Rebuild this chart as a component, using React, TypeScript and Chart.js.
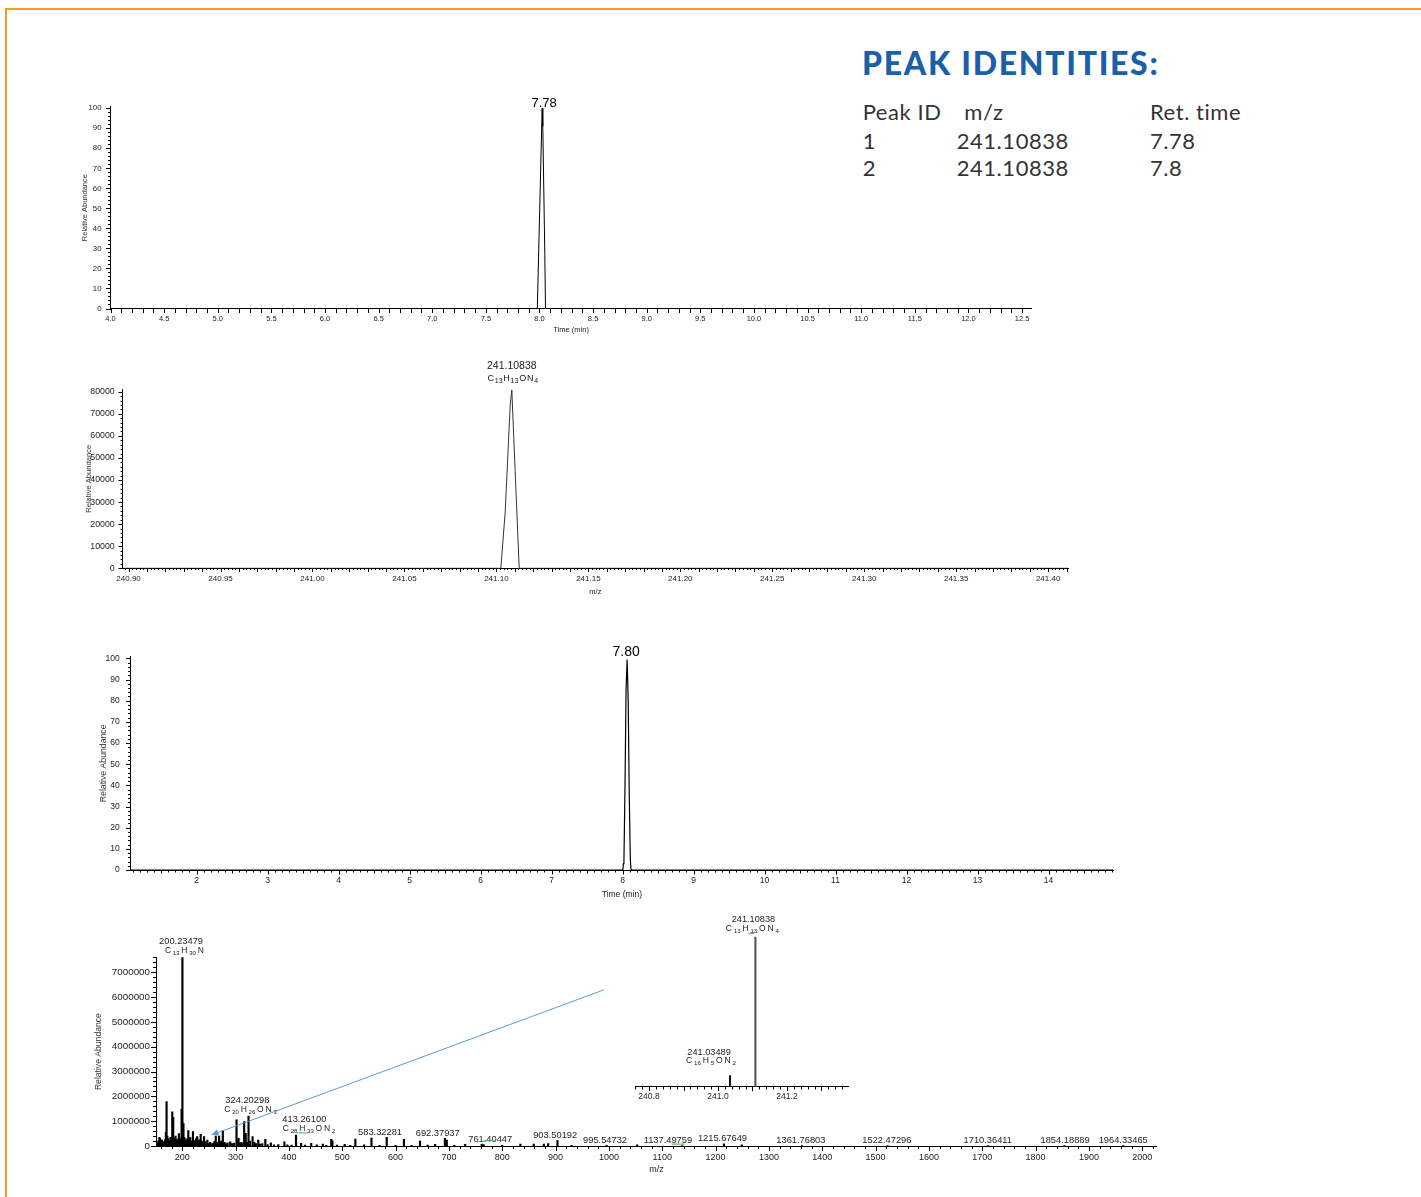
import React, { useEffect, useRef } from "react";
import { Chart, registerables } from "chart.js";

Chart.register(...registerables);

const FONT = "'Liberation Sans', Arial, Helvetica, sans-serif";
Chart.defaults.font.family = FONT;
Chart.defaults.color = "#222";

// ---------- Extracted-ion chromatogram (upper trace) ----------
const chromATime = [4.0, 7.98, 7.984, 8.025, 8.031, 8.05, 8.056, 8.06, 12.59];
const chromAAbund = [0, 0, 0, 100, 91, 27, 0, 0, 0];
const chromAPeakLabel = "7.78";
const chromAXTicks = [4.0, 4.5, 5.0, 5.5, 6.0, 6.5, 7.0, 7.5, 8.0, 8.5, 9.0, 9.5, 10.0, 10.5, 11.0, 11.5, 12.0, 12.5];
const chromAYTicks = [0, 10, 20, 30, 40, 50, 60, 70, 80, 90, 100];

// ---------- Profile mass spectrum around m/z 241.1 ----------
const profileMz = [240.8968, 241.1024, 241.1048, 241.1075, 241.10838, 241.1102, 241.1124, 241.4108];
const profileIntensity = [0, 0, 25600, 74000, 80800, 43800, 0, 0];
const profilePeakLabel = "241.10838";
const profilePeakFormula = "C13H13ON4";
const profileXTicks = [240.9, 240.95, 241.0, 241.05, 241.1, 241.15, 241.2, 241.25, 241.3, 241.35, 241.4];
const profileYTicks = [0, 10000, 20000, 30000, 40000, 50000, 60000, 70000, 80000];

// ---------- Chromatogram (full run) ----------
const chromBTime = [1.0746, 8.005, 8.012, 8.02, 8.035, 8.05, 8.065, 8.08, 8.095, 8.11, 8.12, 14.908];
const chromBAbund = [0, 0, 3, 4, 40, 85, 99.5, 80, 35, 5, 0, 0];
const chromBPeakLabel = "7.80";
const chromBXTicks = [2, 3, 4, 5, 6, 7, 8, 9, 10, 11, 12, 13, 14];
const chromBYTicks = [0, 10, 20, 30, 40, 50, 60, 70, 80, 90, 100];

// ---------- Centroid full-scan spectrum ----------
const spectrumMz = [
  152, 155, 157, 158.5, 160, 162, 164, 166, 168, 169.2, 170.5, 172, 174, 176, 178, 180, 181.2, 183, 185,
  187.4, 189, 191, 193.7, 196, 198.7, 200.23479, 202.2, 204, 206, 208, 209.5, 211.3, 213, 215, 217, 220,
  222, 224, 226, 228, 230, 232, 234.5, 236.5, 238.5, 240.8, 243, 245, 247, 249, 252, 255, 258, 260, 262.8,
  265, 269, 271, 273, 276, 279, 282, 285, 289.8, 293, 297, 301.7, 303.5, 305.5, 308, 311, 313, 316, 319,
  322, 324.20298, 327, 331.8, 335, 338, 342.5, 346, 350, 355.7, 360, 366, 372, 380, 391.5, 397, 405,
  413.261, 422.8, 430, 441.7, 452, 463.6, 470, 479.3, 481.5, 490, 504.5, 515, 524.5, 540.9, 554.7, 570,
  583.32281, 600, 615.6, 630, 645.7, 660, 674, 692.37937, 696, 710, 730.4, 761.40447, 765, 800, 834, 859,
  878, 886, 903.50192, 930, 995.54732, 1053, 1137.49759, 1215.67649, 1249, 1361.76803, 1522.47296,
  1710.36411, 1854.18889, 1964.33465,
];
const spectrumIntensity = [
  120000, 200000, 350000, 300000, 150000, 240000, 100000, 180000, 260000, 550000, 1790000, 400000, 300000,
  220000, 350000, 250000, 1380000, 1160000, 300000, 400000, 200000, 280000, 500000, 300000, 1490000,
  7600000, 910000, 350000, 250000, 200000, 300000, 620000, 250000, 350000, 200000, 580000, 220000, 150000,
  300000, 380000, 180000, 250000, 470000, 200000, 150000, 380000, 180000, 120000, 240000, 100000, 150000,
  100000, 120000, 180000, 400000, 150000, 400000, 120000, 200000, 620000, 150000, 100000, 130000, 170000,
  100000, 120000, 1050000, 200000, 310000, 120000, 150000, 100000, 980000, 510000, 150000, 1210000, 200000,
  380000, 150000, 100000, 240000, 80000, 100000, 270000, 60000, 130000, 50000, 60000, 170000, 50000, 40000,
  440000, 110000, 40000, 110000, 50000, 80000, 30000, 270000, 210000, 40000, 70000, 30000, 280000, 50000,
  320000, 30000, 350000, 30000, 270000, 30000, 200000, 40000, 70000, 310000, 240000, 30000, 70000, 80000,
  60000, 30000, 80000, 80000, 80000, 100000, 215000, 30000, 30000, 50000, 20000, 90000, 50000, 12000,
  12000, 12000, 12000, 12000,
];
const spectrumLabelMz = [
  200.23479, 324.20298, 413.261, 583.32281, 692.37937, 761.40447, 903.50192, 995.54732, 1137.49759,
  1215.67649, 1361.76803, 1522.47296, 1710.36411, 1854.18889, 1964.33465,
];
const spectrumLabelText = [
  "200.23479", "324.20298", "413.26100", "583.32281", "692.37937", "761.40447", "903.50192", "995.54732",
  "1137.49759", "1215.67649", "1361.76803", "1522.47296", "1710.36411", "1854.18889", "1964.33465",
];
const spectrumLabelFormula = ["C13H30N", "C20H26ON3", "C28H33ON2", "", "", "", "", "", "", "", "", "", "", "", ""];
const spectrumXTicks = [200, 300, 400, 500, 600, 700, 800, 900, 1000, 1100, 1200, 1300, 1400, 1500, 1600, 1700, 1800, 1900, 2000];
const spectrumYTicks = [0, 1000000, 2000000, 3000000, 4000000, 5000000, 6000000, 7000000];

// ---------- Inset: isotope region of the full-scan spectrum ----------
const insetMz = [241.03489, 241.10838];
const insetIntensity = [7.4, 100];
const insetLabelText = ["241.03489", "241.10838"];
const insetLabelFormula = ["C16H5ON2", "C13H13ON4"];
const insetXTicks = [240.8, 241.0, 241.2];

// ---------- Peak identities table ----------
const peakIds = ["1", "2"];
const peakMzValues = ["241.10838", "241.10838"];
const peakRetTimes = ["7.78", "7.8"];

// ---------- Layout of the annotation text (pixel offsets) ----------
const spectrumLabelDx = [-1.4, -1.2, 8.3, -6.7, -7.2, 8.5, -2.3, -1.5, -14.4, -1.5, -1, -0.7, 0, 0.6, 0];
const spectrumFormulaDx = [2, 2, 13];
// green isotope-match markers: [label index, x0, x1, dy, anchor] relative to the label centre
const spectrumMatchMarks = [
  [2, -12, -1, 4.3, "formula"],
  [5, -6.7, 4.3, 1.7, "mass"],
  [8, 3.7, 16.6, 3.6, "mass"],
];

type Level = { step: number; len: number };

function drawAxisTicks(ctx: CanvasRenderingContext2D, scale: any, levels: Level[], horizontal: boolean) {
  const fine = levels[0].step;
  const start = Math.ceil(scale.min / fine - 1e-6);
  const end = Math.floor(scale.max / fine + 1e-6);
  ctx.save();
  ctx.strokeStyle = "#000";
  ctx.lineWidth = 1;
  ctx.beginPath();
  for (let i = start; i <= end; i++) {
    const v = i * fine;
    let len = levels[0].len;
    for (const lv of levels) {
      const r = v / lv.step;
      if (Math.abs(r - Math.round(r)) < 1e-5) len = Math.max(len, lv.len);
    }
    const p = Math.round(scale.getPixelForValue(v)) + 0.5;
    if (horizontal) {
      const y0 = Math.round(scale.top);
      ctx.moveTo(p, y0);
      ctx.lineTo(p, y0 + len);
    } else {
      const x0 = Math.round(scale.right);
      ctx.moveTo(x0 - len, p);
      ctx.lineTo(x0, p);
    }
  }
  ctx.stroke();
  ctx.restore();
}

function drawText(
  ctx: CanvasRenderingContext2D,
  s: string,
  x: number,
  y: number,
  size: number,
  baseline: CanvasTextBaseline = "middle",
  color = "#222"
) {
  ctx.save();
  ctx.font = `${size}px ${FONT}`;
  ctx.fillStyle = color;
  ctx.textAlign = "center";
  ctx.textBaseline = baseline;
  ctx.fillText(s, x, y);
  ctx.restore();
}

// chemical formula with subscripted counts, centred on (cx, cy)
function drawFormula(ctx: CanvasRenderingContext2D, f: string, cx: number, cy: number, size: number, sub: number, gap: number) {
  const parts: { t: string; sub: boolean }[] = [];
  const re = /([A-Z][a-z]?)(\d*)/g;
  let m: RegExpExecArray | null;
  while ((m = re.exec(f))) {
    if (!m[0]) break;
    parts.push({ t: m[1], sub: false });
    if (m[2]) parts.push({ t: m[2], sub: true });
  }
  ctx.save();
  ctx.fillStyle = "#222";
  ctx.textBaseline = "middle";
  ctx.textAlign = "left";
  const widths = parts.map((p) => {
    ctx.font = `${p.sub ? sub : size}px ${FONT}`;
    return ctx.measureText(p.t).width;
  });
  const total = widths.reduce((a, b) => a + b, 0) + gap * (parts.length - 1);
  let x = cx - total / 2;
  parts.forEach((p, i) => {
    ctx.font = `${p.sub ? sub : size}px ${FONT}`;
    ctx.fillText(p.t, x, p.sub ? cy + size * 0.28 : cy);
    x += widths[i] + gap;
  });
  ctx.restore();
}

type AxisSpec = {
  min: number;
  max: number;
  labels: number[];
  digits: number;
  levels: Level[];
  font: number;
  pad: number;
  title?: string;
  titleFont?: number;
  titleAt?: number;
};

type PanelSpec = {
  box: { left: number; top: number; width: number; height: number };
  area: { left: number; top: number; right: number; bottom: number };
  x: AxisSpec;
  y: AxisSpec | null;
  yRange?: [number, number];
  datasets: any[];
  draw?: (chart: any, ctx: CanvasRenderingContext2D) => void;
};

function buildPanel(canvas: HTMLCanvasElement, spec: PanelSpec) {
  const { box, area, x, y } = spec;
  const lh = (s: number) => s * 1.2;
  const scales: any = {
    x: {
      type: "linear",
      position: "bottom",
      min: x.min,
      max: x.max,
      offset: false,
      afterBuildTicks: (s: any) => {
        s.ticks = x.labels.map((v) => ({ value: v }));
      },
      afterFit: (s: any) => {
        s.height = box.top + box.height - area.bottom;
      },
      ticks: {
        autoSkip: false,
        maxRotation: 0,
        minRotation: 0,
        padding: x.pad,
        color: "#222",
        font: { size: x.font },
        callback: (v: any) => Number(v).toFixed(x.digits),
      },
      grid: { display: false, drawTicks: true, tickLength: 4 },
      border: { display: true, color: "#000", width: 1 },
      title: x.title
        ? {
            display: true,
            text: x.title,
            color: "#222",
            font: { size: x.titleFont },
            padding: { top: 0, bottom: box.top + box.height - (x.titleAt as number) - lh(x.titleFont as number) / 2 },
          }
        : { display: false },
    },
  };
  if (y) {
    scales.y = {
      type: "linear",
      position: "left",
      min: y.min,
      max: y.max,
      afterBuildTicks: (s: any) => {
        s.ticks = y.labels.map((v) => ({ value: v }));
      },
      afterFit: (s: any) => {
        s.width = area.left - box.left;
      },
      ticks: {
        autoSkip: false,
        padding: y.pad,
        color: "#222",
        font: { size: y.font },
        callback: (v: any) => Number(v).toFixed(y.digits),
      },
      grid: { display: false, drawTicks: true, tickLength: 4 },
      border: { display: true, color: "#000", width: 1 },
      title: y.title
        ? {
            display: true,
            text: y.title,
            color: "#333",
            font: { size: y.titleFont },
            padding: { top: (y.titleAt as number) - box.left - lh(y.titleFont as number) / 2, bottom: 0 },
          }
        : { display: false },
    };
  } else {
    scales.y = { type: "linear", display: false, min: spec.yRange![0], max: spec.yRange![1] };
  }

  const overlay = {
    id: "overlay",
    afterDraw(chart: any) {
      const ctx = chart.ctx as CanvasRenderingContext2D;
      drawAxisTicks(ctx, chart.scales.x, x.levels, true);
      if (y) drawAxisTicks(ctx, chart.scales.y, y.levels, false);
      if (spec.draw) spec.draw(chart, ctx);
    },
  };

  return new Chart(canvas, {
    type: "line",
    data: { datasets: spec.datasets },
    options: {
      responsive: false,
      animation: false,
      devicePixelRatio: 1,
      events: [],
      layout: {
        padding: {
          top: area.top - box.top,
          right: box.left + box.width - area.right,
          left: y ? 0 : area.left - box.left,
          bottom: 0,
        },
      },
      plugins: { legend: { display: false }, tooltip: { enabled: false } },
      scales,
    },
    plugins: [overlay],
  } as any);
}

const pts = (xs: number[], ys: number[]) => xs.map((v, i) => ({ x: v, y: ys[i] }));

const lineSet = (xs: number[], ys: number[], color: string, width: number) => ({
  type: "line",
  data: pts(xs, ys),
  borderColor: color,
  borderWidth: width,
  pointRadius: 0,
  tension: 0,
  fill: false,
});

const apexIndex = (ys: number[]) => ys.indexOf(Math.max(...ys));

const PANELS: PanelSpec[] = [
  {
    box: { left: 55, top: 85, width: 1005, height: 260 },
    area: { left: 110.5, top: 106.7, right: 1031.7, bottom: 308.5 },
    x: {
      min: 4.0, max: 12.59, labels: chromAXTicks, digits: 1,
      levels: [{ step: 0.1, len: 4 }], font: 7.5, pad: 2,
      title: "Time (min)", titleFont: 7.5, titleAt: 330,
    },
    y: {
      min: 0, max: 100.8, labels: chromAYTicks, digits: 0,
      levels: [{ step: 2, len: 3 }, { step: 10, len: 5 }], font: 7.8, pad: 5,
      title: "Relative Abundance", titleFont: 7.5, titleAt: 85,
    },
    datasets: [lineSet(chromATime, chromAAbund, "#000", 1)],
    draw(chart, ctx) {
      const i = apexIndex(chromAAbund);
      const px = chart.scales.x.getPixelForValue(chromATime[i]);
      const py = chart.scales.y.getPixelForValue(chromAAbund[i]);
      drawText(ctx, chromAPeakLabel, px + 2, py - 1.5, 13, "alphabetic", "#000");
    },
  },
  {
    box: { left: 55, top: 350, width: 1045, height: 255 },
    area: { left: 122.7, top: 389.3, right: 1068, bottom: 568.3 },
    x: {
      min: 240.8968, max: 241.4108, labels: profileXTicks, digits: 2,
      levels: [{ step: 0.002, len: 2 }, { step: 0.01, len: 4 }, { step: 0.05, len: 4 }], font: 8, pad: 2,
      title: "m/z", titleFont: 7.5, titleAt: 592,
    },
    y: {
      min: 0, max: 81100, labels: profileYTicks, digits: 0,
      levels: [{ step: 2000, len: 2.5 }, { step: 10000, len: 4.5 }], font: 8.8, pad: 4,
      title: "Relative Abundance", titleFont: 7.6, titleAt: 88.5,
    },
    datasets: [lineSet(profileMz, profileIntensity, "#333", 1)],
    draw(chart, ctx) {
      const i = apexIndex(profileIntensity);
      const px = chart.scales.x.getPixelForValue(profileMz[i]);
      const py = chart.scales.y.getPixelForValue(profileIntensity[i]);
      drawText(ctx, profilePeakLabel, px, py - 24, 10.5);
      drawFormula(ctx, profilePeakFormula, px + 1, py - 11, 9, 7, 0.8);
    },
  },
  {
    box: { left: 55, top: 630, width: 1085, height: 275 },
    area: { left: 130.8, top: 656.7, right: 1113, bottom: 870 },
    x: {
      min: 1.0746, max: 14.908, labels: chromBXTicks, digits: 0,
      levels: [{ step: 0.1, len: 2.5 }, { step: 0.5, len: 3.5 }, { step: 1, len: 4.5 }], font: 8.5, pad: 2,
      title: "Time (min)", titleFont: 8.5, titleAt: 895,
    },
    y: {
      min: 0, max: 100.8, labels: chromBYTicks, digits: 0,
      levels: [{ step: 2, len: 3 }, { step: 10, len: 5 }], font: 8.5, pad: 7,
      title: "Relative Abundance", titleFont: 8.7, titleAt: 103.8,
    },
    datasets: [lineSet(chromBTime, chromBAbund, "#000", 1.2)],
    draw(chart, ctx) {
      const i = apexIndex(chromBAbund);
      const px = chart.scales.x.getPixelForValue(chromBTime[i]);
      const py = chart.scales.y.getPixelForValue(chromBAbund[i]);
      drawText(ctx, chromBPeakLabel, px - 1, py - 3, 14, "alphabetic", "#000");
    },
  },
  {
    box: { left: 55, top: 915, width: 1125, height: 270 },
    area: { left: 156, top: 957.3, right: 1156.8, bottom: 1146 },
    x: {
      min: 150.7, max: 2027.3, labels: spectrumXTicks, digits: 0,
      levels: [{ step: 20, len: 3 }, { step: 100, len: 5 }], font: 9, pad: 2,
      title: "m/z", titleFont: 9, titleAt: 1170,
    },
    y: {
      min: 0, max: 7605000, labels: spectrumYTicks, digits: 0,
      levels: [{ step: 200000, len: 3 }, { step: 1000000, len: 5 }], font: 9.8, pad: 2,
      title: "Relative Abundance", titleFont: 8.6, titleAt: 98.3,
    },
    datasets: [
      {
        type: "bar",
        data: pts(spectrumMz, spectrumIntensity),
        backgroundColor: "#000",
        borderWidth: 0,
        barThickness: 1.5,
      },
    ],
    draw(chart, ctx) {
      const xs = chart.scales.x;
      const ys = chart.scales.y;
      const centres: { mx: number; my: number; fx: number; fy: number }[] = [];
      spectrumLabelMz.forEach((mz, i) => {
        const j = spectrumMz.indexOf(mz);
        const px = xs.getPixelForValue(mz);
        const top = ys.getPixelForValue(spectrumIntensity[j]);
        const formula = spectrumLabelFormula[i];
        let my = top - 5;
        let fx = px;
        let fy = top;
        if (formula) {
          fy = top - 6.5;
          my = fy - 9.5;
          fx = px + (spectrumFormulaDx[i] ?? 0);
          drawFormula(ctx, formula, fx, fy, 8.5, 6, 1.8);
        }
        const mx = px + spectrumLabelDx[i];
        drawText(ctx, spectrumLabelText[i], mx, my, 9.3);
        centres.push({ mx, my, fx, fy });
      });
      // isotope-match markers
      ctx.save();
      ctx.strokeStyle = "#3cb44b";
      ctx.lineWidth = 1;
      spectrumMatchMarks.forEach(([idx, x0, x1, dy, which]: any) => {
        const c = centres[idx];
        const bx = which === "formula" ? c.fx : c.mx;
        const by = which === "formula" ? c.fy : c.my;
        ctx.beginPath();
        ctx.moveTo(bx + x0, by + dy);
        ctx.lineTo(bx + x1, by + dy);
        ctx.stroke();
      });
      ctx.restore();
      // pointer from the inset down to the low-mass cluster
      const ax0 = xs.getPixelForValue(990);
      const ay0 = ys.getPixelForValue(6290000);
      const ax1 = xs.getPixelForValue(254);
      const ay1 = ys.getPixelForValue(440000);
      const ang = Math.atan2(ay1 - ay0, ax1 - ax0);
      ctx.save();
      ctx.strokeStyle = "#5b9bd5";
      ctx.fillStyle = "#5b9bd5";
      ctx.lineWidth = 1;
      ctx.beginPath();
      ctx.moveTo(ax0, ay0);
      ctx.lineTo(ax1 - Math.cos(ang) * 4, ay1 - Math.sin(ang) * 4);
      ctx.stroke();
      ctx.beginPath();
      ctx.moveTo(ax1, ay1);
      ctx.lineTo(ax1 - Math.cos(ang - 0.4) * 8, ay1 - Math.sin(ang - 0.4) * 8);
      ctx.lineTo(ax1 - Math.cos(ang + 0.4) * 8, ay1 - Math.sin(ang + 0.4) * 8);
      ctx.closePath();
      ctx.fill();
      ctx.restore();
    },
  },
  {
    box: { left: 625, top: 905, width: 235, height: 205 },
    area: { left: 635, top: 936.7, right: 848.3, bottom: 1086.7 },
    x: {
      min: 240.7594, max: 241.3777, labels: insetXTicks, digits: 1,
      levels: [{ step: 0.02, len: 2.5 }, { step: 0.1, len: 4 }], font: 8.5, pad: 1,
    },
    y: null,
    yRange: [0, 100],
    datasets: [
      {
        type: "bar",
        data: pts(insetMz, insetIntensity),
        backgroundColor: ["#111", "#555"],
        borderWidth: 0,
        barThickness: [1.4, 2],
      },
    ],
    draw(chart, ctx) {
      const xs = chart.scales.x;
      const ys = chart.scales.y;
      const offs = [
        { mx: -21, my: -23.6, fx: -19, fy: -14.6 },
        { mx: -2, my: -17, fx: -3, fy: -7.7 },
      ];
      insetMz.forEach((mz, i) => {
        const px = xs.getPixelForValue(mz);
        const top = ys.getPixelForValue(insetIntensity[i]);
        const o = offs[i];
        drawText(ctx, insetLabelText[i], px + o.mx, top + o.my, 9.2);
        drawFormula(ctx, insetLabelFormula[i], px + o.fx, top + o.fy, 8.6, 6.2, 1.8);
      });
      const px = xs.getPixelForValue(insetMz[1]);
      const top = ys.getPixelForValue(insetIntensity[1]);
      ctx.save();
      ctx.strokeStyle = "#3cb44b";
      ctx.beginPath();
      ctx.moveTo(px - 7, top - 3.4);
      ctx.lineTo(px - 1, top - 3.4);
      ctx.stroke();
      ctx.restore();
    },
  },
];

const TABLE_FONT = "Lato, 'Open Sans', 'Noto Sans', sans-serif";

function TableText({ x, base, children, size = 22 }: { x: number; base: number; children: any; size?: number }) {
  return (
    <div
      style={{
        position: "absolute",
        left: x,
        top: base - size * 0.89,
        fontFamily: TABLE_FONT,
        fontSize: size,
        lineHeight: `${size}px`,
        color: "#333",
        whiteSpace: "nowrap",
        letterSpacing: 0.55,
      }}
    >
      {children}
    </div>
  );
}

export default function App() {
  const canvases = useRef<(HTMLCanvasElement | null)[]>([]);

  useEffect(() => {
    const charts = PANELS.map((p, i) => buildPanel(canvases.current[i] as HTMLCanvasElement, p));
    return () => charts.forEach((c) => c.destroy());
  }, []);

  const rowBase = [150, 176.7];

  return (
    <div
      style={{
        position: "absolute",
        left: 0,
        top: 0,
        width: 1421,
        height: 1197,
        overflow: "hidden",
        background: "#fff",
      }}
    >
      <div
        style={{
          position: "absolute",
          left: 4.5,
          top: 7.5,
          right: -10,
          bottom: -10,
          borderTop: "2px solid #f39c26",
          borderLeft: "2px solid #f39c26",
        }}
      />
      <div
        style={{
          position: "absolute",
          left: 862,
          top: 75 - 32 * 0.89,
          fontFamily: TABLE_FONT,
          fontWeight: 900,
          fontSize: 32,
          lineHeight: "32px",
          color: "#1b5fa9",
          whiteSpace: "nowrap",
          letterSpacing: 1.7,
        }}
      >
        PEAK IDENTITIES:
      </div>
      <TableText x={862.7} base={120.7}>Peak ID</TableText>
      <TableText x={964.3} base={120.7}>m/z</TableText>
      <TableText x={1150} base={120.7}>Ret. time</TableText>
      {peakIds.map((id, i) => (
        <React.Fragment key={id}>
          <TableText x={862.7} base={rowBase[i]}>{id}</TableText>
          <TableText x={956.7} base={rowBase[i]}>{peakMzValues[i]}</TableText>
          <TableText x={1150} base={rowBase[i]}>{peakRetTimes[i]}</TableText>
        </React.Fragment>
      ))}
      {PANELS.map((p, i) => (
        <canvas
          key={i}
          ref={(el) => {
            canvases.current[i] = el;
          }}
          width={p.box.width}
          height={p.box.height}
          style={{
            position: "absolute",
            left: p.box.left,
            top: p.box.top,
            width: p.box.width,
            height: p.box.height,
          }}
        />
      ))}
    </div>
  );
}
